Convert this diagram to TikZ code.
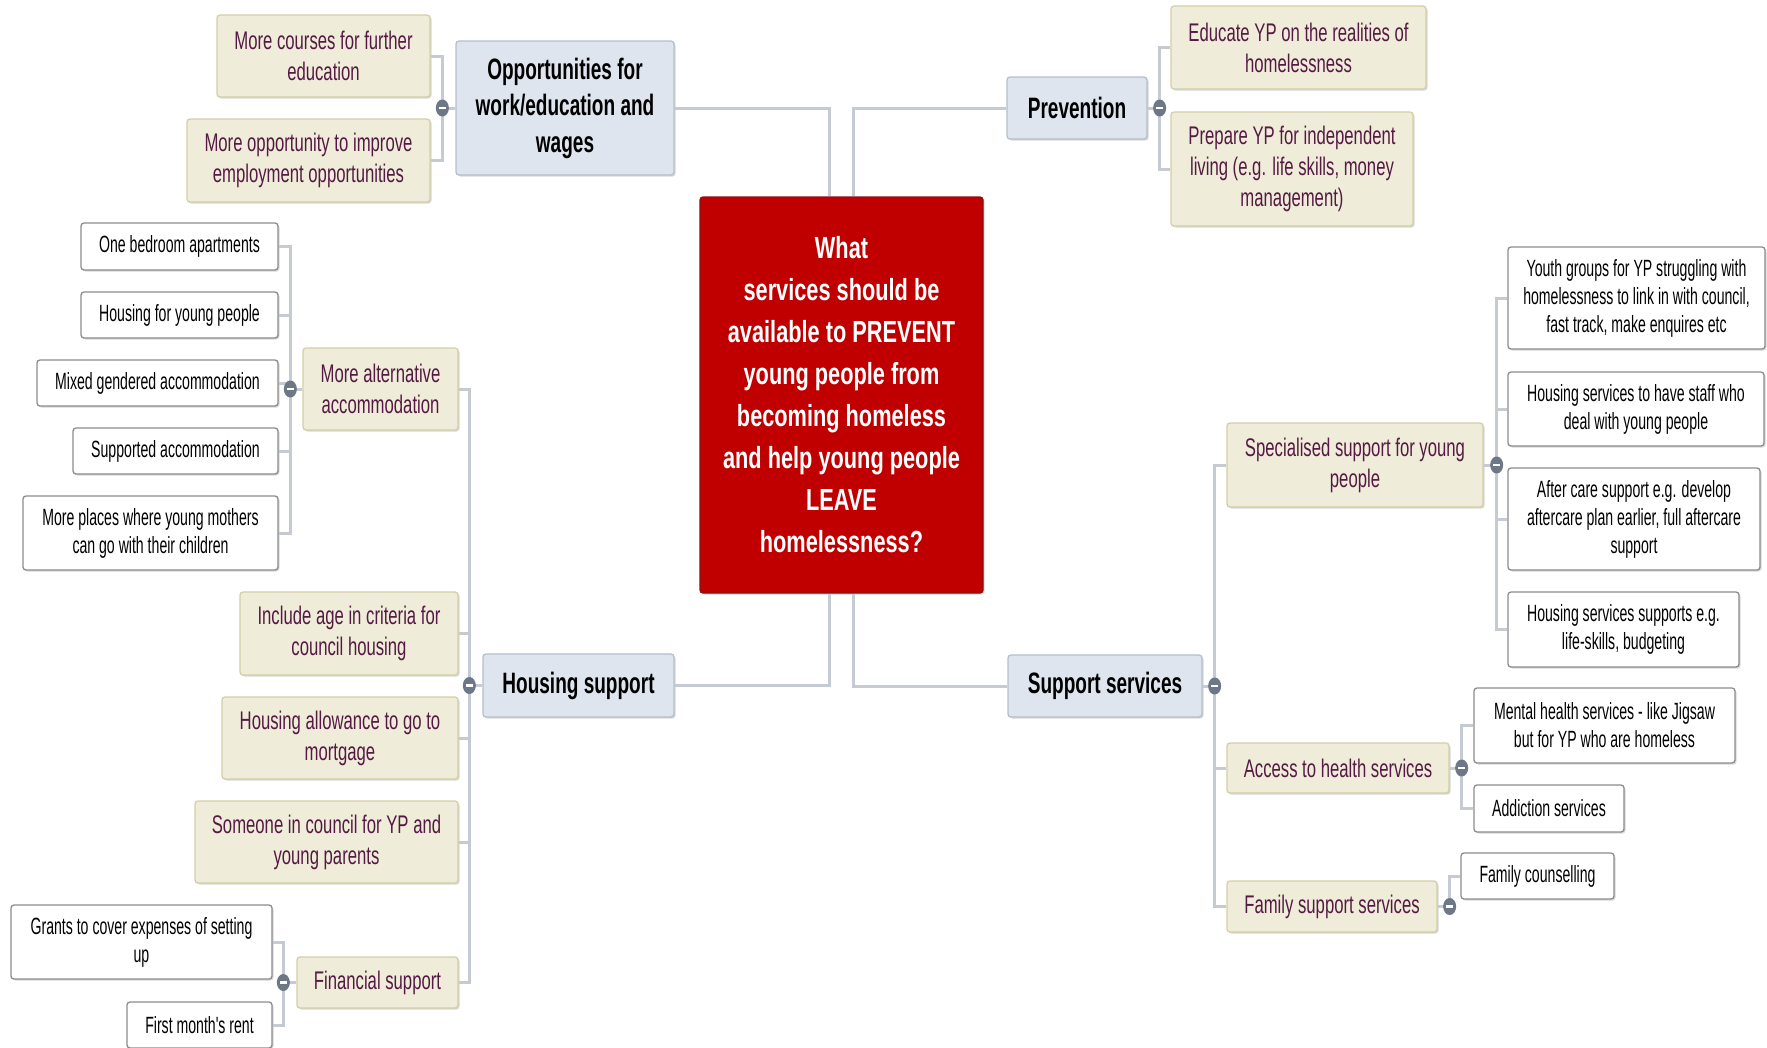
\documentclass[tikz,border=0pt]{standalone}
\usepackage{fontspec}
\setmainfont{Liberation Sans}
\newfontfamily\topicfont[FakeStretch=0.645]{Liberation Sans}
\newfontfamily\centerfont[FakeStretch=0.713]{Liberation Sans}
\newfontfamily\subfont[FakeStretch=0.655]{Liberation Sans}
\newfontfamily\leaffont[FakeStretch=0.60]{Liberation Sans}
\usetikzlibrary{shadows}
\definecolor{topicfill}{HTML}{DEE5EE}
\definecolor{topicline}{HTML}{B4BFCC}
\definecolor{subfill}{HTML}{EFEDD9}
\definecolor{subline}{HTML}{D3CFA6}
\definecolor{subtext}{HTML}{551A44}
\definecolor{leafline}{HTML}{8C8C8C}
\definecolor{centralred}{HTML}{C00000}
\definecolor{centralline}{HTML}{8E1010}
\definecolor{connc}{HTML}{C6CBD3}
\definecolor{mkc}{HTML}{6E7786}
\tikzset{
  base/.style={rectangle, rounded corners=3pt, inner sep=0pt, align=center, line width=1.3pt,
    drop shadow={shadow xshift=1.5pt, shadow yshift=-1.5pt, fill=black!30, opacity=0.5}},
  bx/.style 2 args={minimum width=#1, minimum height=#2},
  topic/.style={base, fill=topicfill, draw=topicline, text=black,
    font=\topicfont\bfseries\fontsize{29.5}{36.5}\selectfont},
  sub/.style={base, fill=subfill, draw=subline, text=subtext,
    font=\subfont\fontsize{25.5}{31}\selectfont},
  leaf/.style={base, fill=white, draw=leafline, text=black,
    font=\leaffont\fontsize{23.5}{28}\selectfont},
  central/.style={base, fill=centralred, draw=centralline, text=white,
    font=\centerfont\bfseries\fontsize{30.5}{42}\selectfont},
  conn/.style={draw=connc, line width=3pt},
}
\newcommand\collapsemark[1]{%
  \fill[mkc] (#1) ellipse [x radius=6.5pt, y radius=8.5pt];
  \draw[white, line width=2.4pt] ([xshift=-3.5pt]#1) -- ([xshift=3.5pt]#1);}
\begin{document}
\begin{tikzpicture}[x=1pt, y=-1pt]
\fill[white] (0,0) rectangle (1767,1047);
\useasboundingbox (0,0) rectangle (1767,1047);

% central
\node[central, bx={283}{396}] (ctr) at (841.5,395) {What\\services should be\\available to PREVENT\\young people from\\becoming homeless\\and help young people\\LEAVE\\homelessness?};

% main topics
\node[topic, bx={218}{134}] (opp) at (565,108) {Opportunities for\\work/education and\\wages};
\node[topic, bx={140}{62}] (prev) at (1077,108) {Prevention};
\node[topic, bx={191}{63}] (hs) at (578.5,685.5) {Housing support};
\node[topic, bx={194}{62}] (ss) at (1105,686) {Support services};

% opportunities children
\node[sub, bx={213}{82}] (c1) at (323.5,56) {More courses for further\\education};
\node[sub, bx={243}{83}] (c2) at (308.5,160.5) {More opportunity to improve\\employment opportunities};

% prevention children
\node[sub, bx={255}{83}] (p1) at (1298.5,47.5) {Educate YP on the realities of\\homelessness};
\node[sub, bx={242}{114}] (p2) at (1292,169) {Prepare YP for independent\\living (e.g. life skills, money\\management)};

% housing support children
\node[sub, bx={155}{82}] (alt) at (380.5,389) {More alternative\\accommodation};
\node[sub, bx={218}{83}] (h1) at (349,633.5) {Include age in criteria for\\council housing};
\node[sub, bx={236}{82}] (h2) at (340,738) {Housing allowance to go to\\mortgage};
\node[sub, bx={263}{82}] (h3) at (326.5,842) {Someone in council for YP and\\young parents};
\node[sub, bx={161}{51}] (fin) at (377.5,982.5) {Financial support};

% alternative accommodation children
\node[leaf, bx={197}{47}] (a1) at (179.5,246.5) {One bedroom apartments};
\node[leaf, bx={197}{46}] (a2) at (179.5,315) {Housing for young people};
\node[leaf, bx={241}{46}] (a3) at (157.5,383) {Mixed gendered accommodation};
\node[leaf, bx={205}{46}] (a4) at (175.5,451) {Supported accommodation};
\node[leaf, bx={255}{74}] (a5) at (150.5,533) {More places where young mothers\\can go with their children};

% financial children
\node[leaf, bx={261}{74}] (f1) at (141.5,942) {Grants to cover expenses of setting\\up};
\node[leaf, bx={145}{46}] (f2) at (199.5,1025) {First month's rent};

% support services children
\node[sub, bx={256}{84}] (sp) at (1355,465) {Specialised support for young\\people};
\node[sub, bx={222}{50}] (ah) at (1338,768) {Access to health services};
\node[sub, bx={210}{51}] (fs) at (1332,906.5) {Family support services};

% specialised children
\node[leaf, bx={257}{102}] (s1) at (1636.5,298) {Youth groups for YP struggling with\\homelessness to link in with council,\\fast track, make enquires etc};
\node[leaf, bx={256}{74}] (s2) at (1636,409) {Housing services to have staff who\\deal with young people};
\node[leaf, bx={252}{102}] (s3) at (1634,519) {After care support e.g. develop\\aftercare plan earlier, full aftercare\\support};
\node[leaf, bx={231}{75}] (s4) at (1623.5,629.5) {Housing services supports e.g.\\life-skills, budgeting};

% health children
\node[leaf, bx={261}{75}] (m1) at (1604.5,725.5) {Mental health services - like Jigsaw\\but for YP who are homeless};
\node[leaf, bx={150}{47}] (m2) at (1549,808.5) {Addiction services};

% family children
\node[leaf, bx={153}{46}] (fc) at (1537.5,876) {Family counselling};

% branch points
\coordinate (oppB) at ([xshift=-13pt]opp.west);
\coordinate (prevB) at ([xshift=12pt]prev.east);
\coordinate (hsB) at ([xshift=-13pt]hs.west);
\coordinate (altB) at ([xshift=-12pt]alt.west);
\coordinate (finB) at ([xshift=-13pt]fin.west);
\coordinate (ssB) at ([xshift=12pt]ss.east);
\coordinate (spB) at ([xshift=13pt]sp.east);
\coordinate (ahB) at ([xshift=12pt]ah.east);
\coordinate (fsB) at ([xshift=12pt]fs.east);
\coordinate (ctrTL) at ([xshift=-12pt]ctr.north);
\coordinate (ctrTR) at ([xshift=12pt]ctr.north);
\coordinate (ctrBL) at ([xshift=-12pt]ctr.south);
\coordinate (ctrBR) at ([xshift=12pt]ctr.south);

% connectors to central
\draw[conn] (opp.east) -| (ctrTL);
\draw[conn] (prev.west) -| (ctrTR);
\draw[conn] (hs.east) -| (ctrBL);
\draw[conn] (ss.west) -| (ctrBR);

% opportunities
\draw[conn] (opp.west) -- (oppB);
\draw[conn] (oppB) |- (c1.east);
\draw[conn] (oppB) |- (c2.east);
% prevention
\draw[conn] (prev.east) -- (prevB);
\draw[conn] (prevB) |- (p1.west);
\draw[conn] (prevB) |- (p2.west);
% housing support
\draw[conn] (hs.west) -- (hsB);
\foreach \n in {alt,h1,h2,h3,fin} {\draw[conn] (hsB) |- (\n.east);}
% alternative
\draw[conn] (alt.west) -- (altB);
\foreach \n in {a1,a2,a3,a4,a5} {\draw[conn] (altB) |- (\n.east);}
% financial
\draw[conn] (fin.west) -- (finB);
\foreach \n in {f1,f2} {\draw[conn] (finB) |- (\n.east);}
% support services
\draw[conn] (ss.east) -- (ssB);
\foreach \n in {sp,ah,fs} {\draw[conn] (ssB) |- (\n.west);}
% specialised
\draw[conn] (sp.east) -- (spB);
\foreach \n in {s1,s2,s3,s4} {\draw[conn] (spB) |- (\n.west);}
% health
\draw[conn] (ah.east) -- (ahB);
\foreach \n in {m1,m2} {\draw[conn] (ahB) |- (\n.west);}
% family
\draw[conn] (fs.east) -- (fsB);
\draw[conn] (fsB) |- (fc.west);

% collapse markers
\collapsemark{oppB}
\collapsemark{prevB}
\collapsemark{hsB}
\collapsemark{altB}
\collapsemark{finB}
\collapsemark{ssB}
\collapsemark{spB}
\collapsemark{ahB}
\collapsemark{fsB}
\end{tikzpicture}
\end{document}
